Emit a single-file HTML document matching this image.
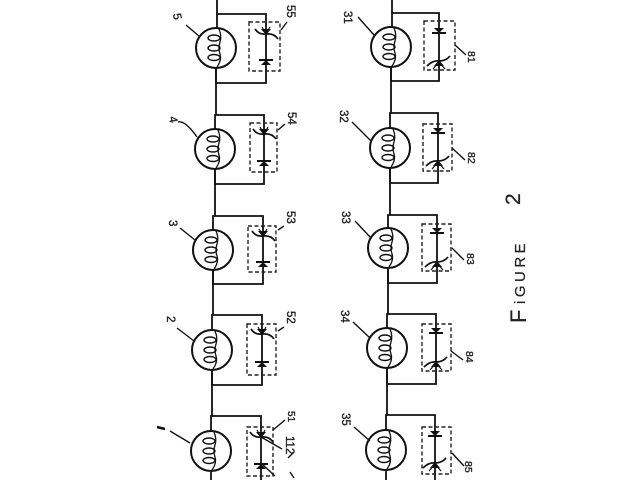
<!DOCTYPE html>
<html><head><meta charset="utf-8"><style>
html,body{margin:0;padding:0;background:#fff}
svg{display:block}
text{font-family:"Liberation Sans",sans-serif;fill:#222;stroke:#222;stroke-width:.35}
</style></head><body>
<svg width="640" height="480" viewBox="0 0 640 480" xmlns="http://www.w3.org/2000/svg">
<defs>
<g id="m" fill="none" stroke="#111">
<circle r="20" stroke-width="2"/>
<path d="M3,-19 Q6,-12 4,-6 Q2,0 4,6 Q6,12 1,19" stroke-width="1.3"/>
<ellipse cx="-2" cy="-10" rx="6" ry="3" stroke-width="1.4"/>
<ellipse cx="-2" cy="0" rx="6" ry="3" stroke-width="1.4"/>
<ellipse cx="-2" cy="9.500" rx="6" ry="3" stroke-width="1.4"/>
</g>
<g id="v">
<path d="M-11,-4 Q-7,2 0,1 Q8,0 12,6" fill="none" stroke="#111" stroke-width="1.7"/>
<path d="M-5,-4 L5,-4 L0,2Z" fill="#111"/>
<path d="M-4,-6 L0,1 L4,-6" fill="none" stroke="#111" stroke-width="1.2"/>
</g>
<g id="u">
<path d="M-12,5 Q-6,-1 0,0 Q7,0 11,-5" fill="none" stroke="#111" stroke-width="1.7"/>
<path d="M-5,5 L5,5 L0,-1Z" fill="#111"/>
<path d="M-6,8 L0,1 L6,8" fill="none" stroke="#111" stroke-width="1.2"/>
</g>
<g id="p">
<path d="M-7,-1 H7" stroke="#111" stroke-width="2"/>
<path d="M-5,4 L5,4 L0,-1Z" fill="#111"/>
</g>
<g id="q">
<path d="M-7,1 H7" stroke="#111" stroke-width="2"/>
<path d="M-5,-4 L5,-4 L0,1Z" fill="#111"/>
</g>
</defs>
<rect width="640" height="480" fill="#fff"/>
<g fill="none" stroke="#111" stroke-width="1.8">
<path d="M217,0 V14 M216,68 V115 M215,169 V216 M213,270 V315 M212,370 V416 M211,471 V480"/>
<path d="M392,0 V13 M391,67 V113 M390,168 V215 M388,268 V314 M387,368 V415 M386,470 V480"/>
<path d="M217,28 V14 H266 V83 H216 V68"/>
<path d="M215,129 V115 H264 V184 H215 V169"/>
<path d="M213,230 V216 H263 V284 H213 V270"/>
<path d="M212,330 V315 H262 V385 H212 V370"/>
<path d="M211,431 V416 H261 V480"/>
<path d="M392,27 V13 H439 V81 H391 V67"/>
<path d="M390,128 V113 H438 V183 H390 V168"/>
<path d="M388,228 V215 H437 V283 H388 V268"/>
<path d="M387,328 V314 H436 V384 H387 V368"/>
<path d="M386,430 V415 H435 V480"/>
</g>
<g fill="none" stroke="#222" stroke-width="1.4" stroke-dasharray="4 2.5">
<rect x="249" y="22" width="31" height="49"/>
<rect x="250" y="123" width="27" height="49"/>
<rect x="248" y="226" width="28" height="46"/>
<rect x="247" y="324" width="29" height="51"/>
<rect x="247" y="427" width="26" height="49"/>
<rect x="424" y="21" width="31" height="49"/>
<rect x="423" y="124" width="29" height="47"/>
<rect x="422" y="224" width="29" height="47"/>
<rect x="422" y="324" width="29" height="47"/>
<rect x="422" y="427" width="29" height="47"/>
</g>
<use href="#m" x="216" y="48"/><use href="#m" x="215" y="149"/><use href="#m" x="213" y="250"/><use href="#m" x="212" y="350"/><use href="#m" x="211" y="451"/>
<use href="#m" x="391" y="47"/><use href="#m" x="390" y="148"/><use href="#m" x="388" y="248"/><use href="#m" x="387" y="348"/><use href="#m" x="386" y="450"/>
<use href="#v" x="266" y="33"/><use href="#p" x="266" y="61"/>
<use href="#v" x="264" y="133"/><use href="#p" x="264" y="162"/>
<use href="#v" x="263" y="235"/><use href="#p" x="263" y="263"/>
<use href="#v" x="262" y="333"/><use href="#p" x="262" y="363"/>
<use href="#v" x="261" y="436"/><use href="#p" x="261" y="465"/>
<use href="#q" x="439" y="32"/><use href="#u" x="439" y="61"/>
<use href="#q" x="438" y="132"/><use href="#u" x="438" y="161"/>
<use href="#q" x="437" y="232"/><use href="#u" x="437" y="262"/>
<use href="#q" x="436" y="332"/><use href="#u" x="436" y="362"/>
<use href="#q" x="435" y="435"/><use href="#u" x="435" y="463"/>
<g fill="none" stroke="#111" stroke-width="1.4">
<path d="M186,25 L199,36 M178,122 Q185,120 197,137 M180,228 L195,240 M177,328 L194,341 M170,431 L190,443"/>
<path d="M358,17 L374,35 M352,122 L371,141 M355,221 L371,238 M353,322 L370,338 M354,427 L370,441"/>
<path d="M281,30 L287,22 M278,130 L285,124 M278,230 L284,226 M278,331 L284,327 M273,430 L285,420"/>
<path d="M455,45 L466,55 M452,148 L465,160 M452,248 L464,260 M451,351 L463,360 M452,453 L464,466"/>
<path d="M261,437 L282,449 M261,463 L275,476 M288,458 L294,452 M290,472 L294,478"/>
</g>
<path d="M157,427 L165,429" stroke="#111" stroke-width="2.5"/>
<g font-size="11.500">
<text transform="translate(173,14) rotate(80)">5</text>
<text transform="translate(169,117) rotate(80)">4</text>
<text transform="translate(169,220) rotate(90)">3</text>
<text transform="translate(167,316) rotate(90)">2</text>
<text transform="translate(287,5) rotate(90)">55</text>
<text transform="translate(288,112) rotate(90)">54</text>
<text transform="translate(287,211) rotate(90)">53</text>
<text transform="translate(287,311) rotate(90)">52</text>
<text transform="translate(288,411) rotate(90)" font-size="10">51</text>
<text transform="translate(286,436) rotate(90)">112</text>
<text transform="translate(344,11) rotate(90)">31</text>
<text transform="translate(340,110) rotate(90)">32</text>
<text transform="translate(342,211) rotate(90)">33</text>
<text transform="translate(341,310) rotate(90)">34</text>
<text transform="translate(342,413) rotate(90)">35</text>
<text transform="translate(468,51) rotate(90)" font-size="10.500">81</text>
<text transform="translate(468,152) rotate(90)" font-size="10.500">82</text>
<text transform="translate(467,253) rotate(90)" font-size="10.500">83</text>
<text transform="translate(466,351) rotate(90)" font-size="10.500">84</text>
<text transform="translate(465,461) rotate(90)" font-size="10.500">85</text>
</g>
<g>
<text transform="translate(526,323) rotate(-90)" font-size="22" style="stroke-width:.2">F</text>
<text transform="translate(525,304) rotate(-90)" font-size="15" letter-spacing="3.500" style="stroke-width:.2">iGURE</text>
<text transform="translate(520,205) rotate(-90)" font-size="21" style="stroke-width:.2">2</text>
</g>
</svg>
</body></html>
